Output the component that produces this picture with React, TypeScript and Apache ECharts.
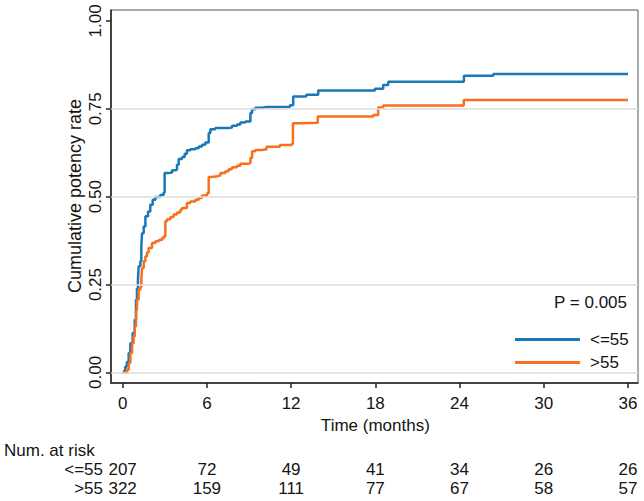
import React, { useEffect, useRef } from "react";
import * as echarts from "echarts";

// ---- data ----
const months = [0, 6, 12, 18, 24, 30, 36];
const yTicks = [0, 0.25, 0.5, 0.75, 1];
const gridValues = [0, 0.25, 0.5, 0.75];
const groupNames = ["<=55", ">55"];
const riskLe55 = [207, 72, 49, 41, 34, 26, 26];
const riskGt55 = [322, 159, 111, 77, 67, 58, 57];
const pValueText = "P = 0.005";

const le55Time = [0, 0.1, 0.19, 0.3, 0.43, 0.55, 0.71, 0.86, 0.95, 1.02, 1.09, 1.14, 1.26, 1.33, 1.38, 1.5, 1.62, 1.81, 1.97, 2.14, 2.33, 2.68, 2.92, 2.99, 3.28, 3.52, 3.75, 3.87, 3.99, 4.23, 4.42, 4.58, 4.82, 5.18, 5.42, 5.65, 5.89, 6.13, 6.25, 6.6, 7.55, 7.79, 8.15, 8.38, 8.74, 9.1, 9.22, 9.45, 9.93, 10.25, 11.92, 12.15, 13.08, 13.93, 17.97, 18.56, 18.92, 24.31, 26.4, 36];
const le55Rate = [0, 0.005, 0.017, 0.03, 0.055, 0.083, 0.112, 0.15, 0.207, 0.24, 0.264, 0.302, 0.316, 0.358, 0.396, 0.415, 0.444, 0.458, 0.477, 0.491, 0.499, 0.505, 0.512, 0.567, 0.569, 0.575, 0.577, 0.591, 0.607, 0.613, 0.622, 0.632, 0.635, 0.638, 0.643, 0.648, 0.654, 0.681, 0.692, 0.695, 0.697, 0.702, 0.705, 0.711, 0.714, 0.738, 0.749, 0.753, 0.755, 0.756, 0.76, 0.785, 0.79, 0.802, 0.807, 0.818, 0.827, 0.844, 0.849, 0.849];

const gt55Time = [0, 0.2, 0.31, 0.43, 0.55, 0.67, 0.78, 0.86, 0.95, 1.02, 1.14, 1.26, 1.33, 1.38, 1.5, 1.62, 1.73, 1.85, 2.09, 2.33, 2.57, 2.8, 2.92, 3.04, 3.16, 3.4, 3.63, 3.87, 4.11, 4.23, 4.58, 4.82, 5.18, 5.42, 5.65, 6.01, 6.13, 6.37, 6.72, 6.96, 7.32, 7.55, 7.79, 8.15, 8.38, 8.98, 9.1, 9.22, 9.45, 9.93, 10.25, 11.2, 12.04, 12.13, 12.6, 13.9, 17.85, 18.2, 18.56, 24.3, 36];
const gt55Rate = [0, 0, 0.008, 0.027, 0.055, 0.083, 0.102, 0.131, 0.178, 0.207, 0.235, 0.243, 0.264, 0.297, 0.316, 0.33, 0.341, 0.354, 0.368, 0.373, 0.377, 0.382, 0.387, 0.43, 0.436, 0.442, 0.449, 0.455, 0.463, 0.468, 0.482, 0.486, 0.491, 0.496, 0.503, 0.51, 0.556, 0.558, 0.56, 0.567, 0.572, 0.578, 0.584, 0.588, 0.594, 0.596, 0.61, 0.629, 0.633, 0.635, 0.642, 0.647, 0.65, 0.709, 0.71, 0.728, 0.732, 0.754, 0.759, 0.775, 0.775];

const BLUE = "#1a78b8";
const ORANGE = "#f8701e";
const FONT = "'Liberation Sans', Arial, Helvetica, sans-serif";
const TXT = "#141414";

export default function App() {
  const ref = useRef<HTMLDivElement>(null);

  useEffect(() => {
    if (!ref.current) return;
    const chart = echarts.init(ref.current, null, { renderer: "svg" });
    const zip = (t: number[], r: number[]) => t.map((v, i) => [v, r[i]]);

    chart.setOption({
      animation: false,
      backgroundColor: "#ffffff",
      textStyle: { fontFamily: FONT },
      grid: {
        left: 111,
        top: 10,
        right: 6,
        bottom: 118,
        show: true,
        borderColor: "#555",
        borderWidth: 1,
        backgroundColor: "transparent",
      },
      xAxis: {
        type: "value",
        min: -0.83,
        max: 36.71,
        axisLine: { show: true, onZero: false, lineStyle: { color: "#222", width: 1.5 } },
        axisTick: { show: true, customValues: months, length: 5, lineStyle: { color: "#222", width: 1.5 } },
        axisLabel: { customValues: months, margin: 12, fontSize: 17, color: TXT, fontFamily: FONT },
        splitLine: { show: false },
      },
      yAxis: {
        type: "value",
        min: -0.03,
        max: 1.031,
        axisLine: { show: true, onZero: false, lineStyle: { color: "#222", width: 1.5 } },
        axisTick: { show: true, customValues: yTicks, length: 5, lineStyle: { color: "#222", width: 1.5 } },
        axisLabel: {
          customValues: yTicks,
          rotate: 90,
          margin: 7,
          fontSize: 17,
          color: TXT,
          fontFamily: FONT,
          formatter: (v: number) => v.toFixed(2),
        },
        splitLine: { show: false },
      },
      legend: {
        data: groupNames,
        orient: "vertical",
        left: 510,
        top: 326,
        itemWidth: 65,
        itemHeight: 3,
        itemGap: 6,
        icon: "rect",
        textStyle: { fontSize: 17, color: TXT, fontFamily: FONT, padding: [0, 0, 0, 5] },
      },
      series: [
        {
          name: "grid",
          type: "line",
          data: [],
          z: 1,
          markLine: {
            silent: true,
            symbol: "none",
            label: { show: false },
            lineStyle: { color: "#dcdcdc", width: 1.5, type: "solid" },
            data: gridValues.map((v) => ({ yAxis: v })),
          },
        },
        {
          name: groupNames[0],
          type: "line",
          step: "end",
          showSymbol: false,
          symbol: "none",
          z: 3,
          color: BLUE,
          lineStyle: { color: BLUE, width: 2.5 },
          data: zip(le55Time, le55Rate),
        },
        {
          name: groupNames[1],
          type: "line",
          step: "end",
          showSymbol: false,
          symbol: "none",
          z: 4,
          color: ORANGE,
          lineStyle: { color: ORANGE, width: 2.5 },
          data: zip(gt55Time, gt55Rate),
        },
      ],
    });

    const xs = months.map((m) => chart.convertToPixel({ xAxisIndex: 0 }, m) as number);
    const txt = (text: string, x: number, y: number, align: string, extra: any = {}) => ({
      type: "text",
      x,
      y,
      silent: true,
      style: {
        text,
        fontSize: 17,
        fontFamily: FONT,
        fill: TXT,
        align,
        verticalAlign: "middle",
        ...extra,
      },
    });
    const graphics: any[] = [
      txt(pValueText, 627, 302, "right"),
      txt("Time (months)", (xs[0] + xs[xs.length - 1]) / 2, 425, "center"),
      txt("Num. at risk", 4, 450, "left"),
      txt(groupNames[0], 103, 469, "right"),
      txt(groupNames[1], 103, 488, "right"),
      {
        type: "text",
        x: 75,
        y: 196,
        rotation: Math.PI / 2,
        silent: true,
        style: {
          text: "Cumulative potency rate",
          fontSize: 18,
          fontFamily: FONT,
          fill: TXT,
          align: "center",
          verticalAlign: "middle",
        },
      },
    ];
    xs.forEach((x, i) => {
      graphics.push(txt(String(riskLe55[i]), x, 469, "center"));
      graphics.push(txt(String(riskGt55[i]), x, 488, "center"));
    });
    chart.setOption({ graphic: graphics });

    return () => chart.dispose();
  }, []);

  return (
    <div
      ref={ref}
      style={{ position: "fixed", left: 0, top: 0, width: 644, height: 501, background: "#fff" }}
    />
  );
}
